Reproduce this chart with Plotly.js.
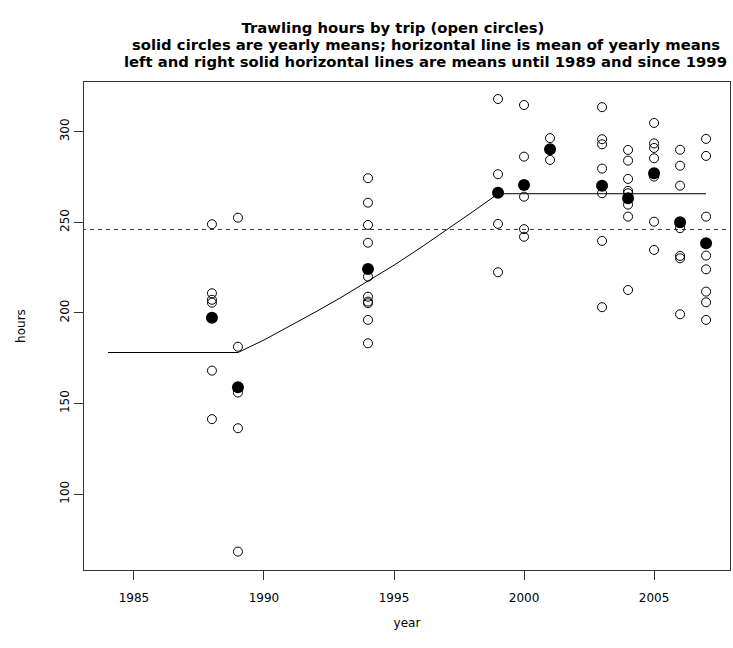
<!DOCTYPE html>
<html>
<head>
<meta charset="utf-8">
<script src="https://cdn.plot.ly/plotly-3.0.1.min.js"></script>
<style>html,body{margin:0;padding:0;background:#fff;}#chart{width:733px;height:648px;}</style>
</head>
<body>
<div id="chart"></div>
<script>
// Trawling hours per trip (open circles)
const tripYears = [
  1988,1988,1988,1988,1988,1988,
  1989,1989,1989,1989,1989,
  1994,1994,1994,1994,1994,1994,1994,1994,1994,1994,
  1999,1999,1999,1999,
  2000,2000,2000,2000,2000,
  2001,2001,
  2003,2003,2003,2003,2003,2003,2003,
  2004,2004,2004,2004,2004,2004,2004,2004,2004,
  2005,2005,2005,2005,2005,2005,2005,
  2006,2006,2006,2006,2006,2006,2006,
  2007,2007,2007,2007,2007,2007,2007,2007
];
const tripHours = [
  248.9,210.8,207.2,205.6,168.1,141.3,
  252.5,181.3,156.0,136.3,68.2,
  274.3,260.8,248.5,238.7,220.0,208.9,206.2,205.3,196.1,183.2,
  318.0,276.5,249.1,222.4,
  314.7,286.2,264.1,246.2,242.0,
  296.4,284.4,
  313.5,295.8,293.0,279.6,266.0,239.7,203.1,
  289.9,284.0,273.9,267.3,266.0,263.5,259.7,253.1,212.6,
  304.8,293.5,291.0,285.3,275.2,250.3,234.7,
  290.0,281.2,270.2,246.7,231.4,230.1,199.2,
  296.0,286.6,253.1,231.6,224.0,211.7,205.8,196.1
];
// Yearly means (solid circles)
const meanYears = [1988,1989,1994,1999,2000,2001,2003,2004,2005,2006,2007];
const meanHours = [197.3,158.9,224.2,266.3,270.6,290.3,270.1,263.2,277.0,250.0,238.4];
// Connecting curve between the two periods
const curveYears = [1990,1991,1992,1993,1994,1995,1996,1997,1998];
const curveHours = [185.0,192.7,200.6,208.8,217.4,226.3,235.7,245.4,255.5];
const lineStartYear = 1984, earlyEndYear = 1989, lateStartYear = 1999, lineEndYear = 2007;

const xTicks = [1985,1990,1995,2000,2005];
const yTicks = [100,150,200,250,300];

const titleLines = [
  'Trawling hours by trip (open circles)',
  'solid circles are yearly means; horizontal line is mean of yearly means',
  'left and right solid horizontal lines are means until 1989 and since 1999'
];

function avg(a){return a.reduce((s,v)=>s+v,0)/a.length;}
const earlyMean = avg(meanHours.filter((v,i)=>meanYears[i]<=earlyEndYear));
const lateMean = avg(meanHours.filter((v,i)=>meanYears[i]>=lateStartYear));
const grandMean = avg(meanHours);

const lineX = [lineStartYear, earlyEndYear].concat(curveYears, [lateStartYear, lineEndYear]);
const lineY = [earlyMean, earlyMean].concat(curveHours, [lateMean, lateMean]);

const FONT = 'DejaVu Sans, Liberation Sans, Arial, sans-serif';
const TITLE_FONT = {family: FONT, size: 14.8, color: '#000'};
const traces = [
  {x: lineX, y: lineY, mode: 'lines', type: 'scatter',
   line: {color: '#000', width: 1}, hoverinfo: 'skip'},
  {x: [1983, 2009], y: [grandMean, grandMean], mode: 'lines', type: 'scatter',
   line: {color: '#333', width: 1, dash: '4px,4px'}, hoverinfo: 'skip'},
  {x: tripYears, y: tripHours, mode: 'markers', type: 'scatter',
   marker: {symbol: 'circle-open', size: 9, color: '#000', line: {width: 1, color: '#000'}}},
  {x: meanYears, y: meanHours, mode: 'markers', type: 'scatter',
   marker: {symbol: 'circle', size: 12, color: '#000'}}
];

const axisCommon = {
  showgrid: false, zeroline: false, showline: true, mirror: true,
  linecolor: '#333', linewidth: 1, ticks: 'outside', ticklen: 9,
  tickcolor: '#333', tickwidth: 1,
  tickfont: {family: FONT, size: 12, color: '#000'}
};

const layout = {
  width: 733, height: 648,
  margin: {l: 84, r: 3, t: 82, b: 78},
  paper_bgcolor: '#fff', plot_bgcolor: '#fff',
  showlegend: false,
  font: {family: FONT, color: '#000'},
  title: {
    text: '<b>' + titleLines[0] + '</b>',
    font: TITLE_FONT,
    x: 0.4783, xanchor: 'center', xref: 'paper',
    y: 0.9568, yanchor: 'middle', yref: 'container'
  },
  annotations: [
    {text: '<b>' + titleLines[1] + '</b>', xref: 'paper', yref: 'paper',
     x: 0.5294, y: 1.0768, xanchor: 'center', yanchor: 'middle',
     showarrow: false, font: TITLE_FONT},
    {text: '<b>' + titleLines[2] + '</b>', xref: 'paper', yref: 'paper',
     x: 0.5294, y: 1.0430, xanchor: 'center', yanchor: 'middle',
     showarrow: false, font: TITLE_FONT}
  ],
  xaxis: Object.assign({}, axisCommon, {
    range: [1983.08, 2007.92], tickvals: xTicks, ticktext: xTicks.map(String),
    ticklabelstandoff: 8,
    title: {text: 'year', font: {family: FONT, size: 12, color: '#000'}, standoff: 14}
  }),
  yaxis: Object.assign({}, axisCommon, {
    range: [58.05, 327.4], tickvals: yTicks, ticktext: yTicks.map(String),
    tickangle: -90,
    title: {text: 'hours', font: {family: FONT, size: 12, color: '#000'}, standoff: 30}
  })
};

Plotly.newPlot('chart', traces, layout, {staticPlot: true, displayModeBar: false});
</script>
</body>
</html>
